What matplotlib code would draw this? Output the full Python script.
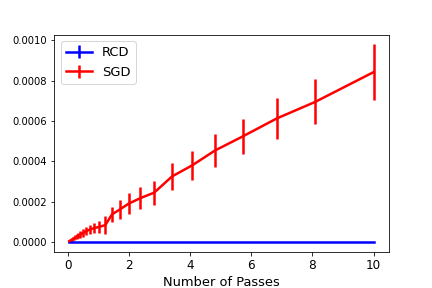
import numpy as np
import matplotlib
matplotlib.use('Agg')
import matplotlib.pyplot as plt

# number of passes (x) and loss values
passes = [0.052, 0.062, 0.074, 0.088, 0.10, 0.12, 0.15, 0.18, 0.21, 0.25,
          0.30, 0.35, 0.42, 0.50, 0.60, 0.72, 0.86, 1.02, 1.23, 1.45,
          1.71, 1.99, 2.38, 2.83, 3.41, 4.07, 4.82, 5.73, 6.83, 8.10, 10.0]

sgd_mean = [4.5e-6, 5.5e-6, 6.5e-6, 8.0e-6, 9.0e-6, 1.1e-5, 1.3e-5, 1.6e-5,
            1.9e-5, 2.3e-5, 2.7e-5, 3.2e-5, 3.8e-5, 4.5e-5, 5.3e-5, 6.2e-5,
            6.9e-5, 7.5e-5, 8.4e-5, 1.37e-4, 1.62e-4, 1.90e-4, 2.18e-4,
            2.45e-4, 3.25e-4, 3.80e-4, 4.54e-4, 5.24e-4, 6.12e-4, 6.95e-4,
            8.42e-4]
sgd_err = [2e-6, 2.5e-6, 3e-6, 3.5e-6, 4e-6, 5e-6, 6e-6, 7e-6, 8e-6, 1.0e-5,
           1.2e-5, 1.4e-5, 1.6e-5, 1.8e-5, 2.0e-5, 2.3e-5, 2.6e-5, 2.8e-5,
           4.3e-5, 3.8e-5, 4.8e-5, 5.2e-5, 5.5e-5, 6.0e-5, 6.5e-5, 7.3e-5,
           8.1e-5, 8.8e-5, 1.0e-4, 1.12e-4, 1.37e-4]

rcd_mean = [0.0] * len(passes)
rcd_err = [1e-7] * len(passes)

fig, ax = plt.subplots(figsize=(6, 4), dpi=72)
fig.subplots_adjust(left=0.125, right=0.9, top=0.88, bottom=0.125)

ax.errorbar(passes, rcd_mean, yerr=rcd_err, color='b', lw=2.5, label='RCD')
ax.errorbar(passes, sgd_mean, yerr=sgd_err, color='r', lw=2.5, label='SGD')

ax.set_xlabel('Number of Passes', fontsize=13)
ax.tick_params(axis='x', labelsize=12)
ax.set_xticks([0, 2, 4, 6, 8, 10])
ax.set_yticks(np.arange(0, 0.0011, 0.0002))
ax.set_yticklabels(['%.4f' % t for t in np.arange(0, 0.0011, 0.0002)])
ax.legend(loc='upper left', fontsize=13)

plt.savefig('out.png', dpi=72)
